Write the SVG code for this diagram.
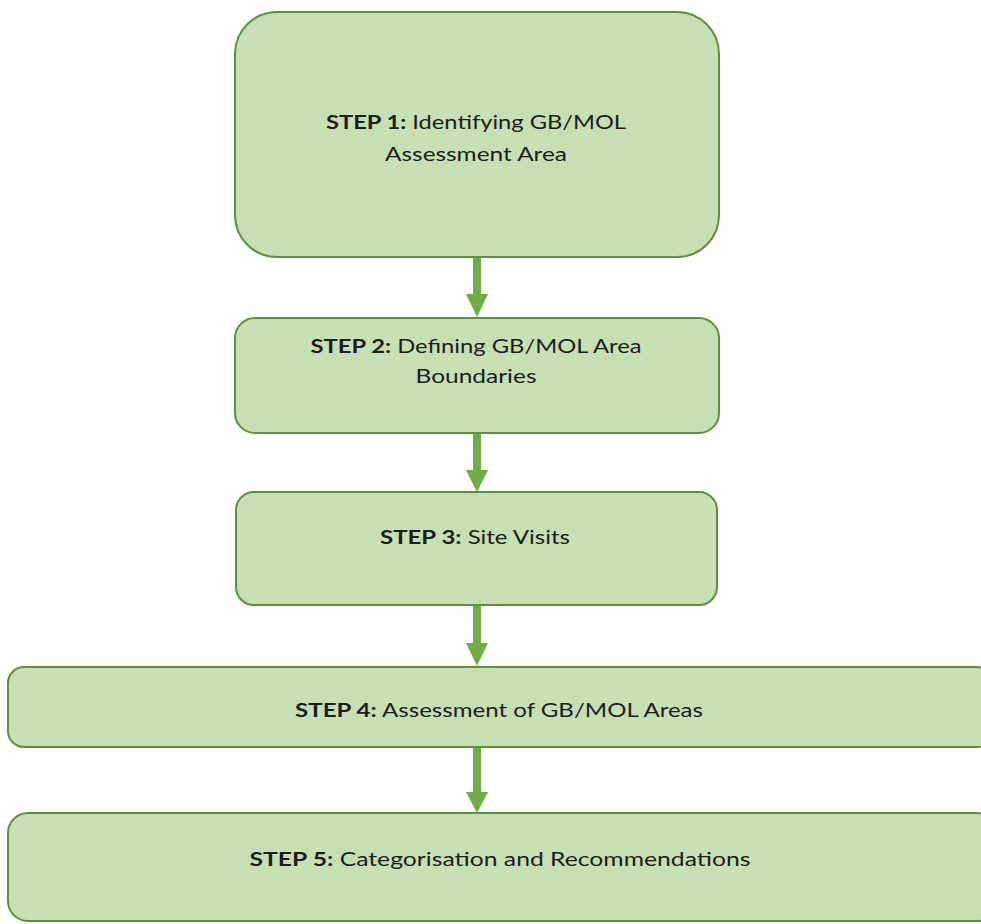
<svg xmlns="http://www.w3.org/2000/svg" width="981" height="924" viewBox="0 0 981 924">
<defs>
<style>
.box{fill:#c6e0b4;stroke:#5e8f3a;stroke-width:2}
.lbl{font-family:Lato,"Open Sans","Liberation Sans",sans-serif;font-size:19.5px;fill:#1c1c1c;text-anchor:middle}
.b{font-weight:bold}
.conn{stroke:#70ad47;stroke-width:8;fill:none}
.head{fill:#70ad47}
</style>
</defs>
<rect width="981" height="924" fill="#ffffff"/>
<g id="connectors">
<line class="conn" x1="477" y1="257" x2="477" y2="296"/>
<polygon class="head" points="466,294 488,294 477,317"/>
<line class="conn" x1="477" y1="433" x2="477" y2="472"/>
<polygon class="head" points="466,470 488,470 477,492"/>
<line class="conn" x1="477" y1="605" x2="477" y2="645"/>
<polygon class="head" points="466,643 488,643 477,666"/>
<line class="conn" x1="477" y1="747" x2="477" y2="795"/>
<polygon class="head" points="466,792 488,792 477,813"/>
</g>
<g id="step1">
<rect class="box" x="235" y="12" width="484" height="245" rx="42" ry="42"/>
<text class="lbl" x="476" y="129" textLength="300" lengthAdjust="spacingAndGlyphs"><tspan class="b">STEP 1:</tspan> Identifying GB/MOL</text>
<text class="lbl" x="476" y="161" textLength="182" lengthAdjust="spacingAndGlyphs">Assessment Area</text>
</g>
<g id="step2">
<rect class="box" x="235" y="318" width="484" height="115" rx="20" ry="20"/>
<text class="lbl" x="476" y="353" textLength="331" lengthAdjust="spacingAndGlyphs"><tspan class="b">STEP 2:</tspan> Defining GB/MOL Area</text>
<text class="lbl" x="476" y="383" textLength="121" lengthAdjust="spacingAndGlyphs">Boundaries</text>
</g>
<g id="step3">
<rect class="box" x="236" y="492" width="481" height="113" rx="18" ry="18"/>
<text class="lbl" x="475" y="544" textLength="190" lengthAdjust="spacingAndGlyphs"><tspan class="b">STEP 3:</tspan> Site Visits</text>
</g>
<g id="step4">
<rect class="box" x="8" y="667" width="985" height="80" rx="16" ry="16"/>
<text class="lbl" x="499" y="717" textLength="408" lengthAdjust="spacingAndGlyphs"><tspan class="b">STEP 4:</tspan> Assessment of GB/MOL Areas</text>
</g>
<g id="step5">
<rect class="box" x="8" y="813" width="988" height="108" rx="20" ry="20"/>
<text class="lbl" x="500" y="866" textLength="501" lengthAdjust="spacingAndGlyphs"><tspan class="b">STEP 5:</tspan> Categorisation and Recommendations</text>
</g>
</svg>
